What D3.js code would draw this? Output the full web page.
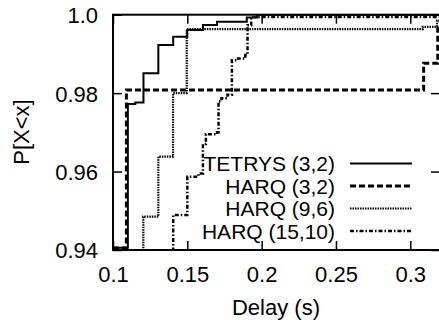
<!DOCTYPE html>
<html><head><meta charset="utf-8">
<script src="https://cdn.jsdelivr.net/npm/d3@7"></script>
<style>body{margin:0;background:#fff}svg{display:block}text{font-family:"Liberation Sans",Arial,sans-serif;font-size:22px;fill:#000}</style>
</head><body>
<script>
const xTicks = [0.1, 0.15, 0.2, 0.25, 0.3];
const xTickLabels = ["0.1", "0.15", "0.2", "0.25", "0.3"];
const yTicks = [0.94, 0.96, 0.98, 1.0];
const yTickLabels = ["0.94", "0.96", "0.98", "1.0"];
const seriesNames = ["TETRYS (3,2)", "HARQ (3,2)", "HARQ (9,6)", "HARQ (15,10)"];

const tetrysX = [0.1, 0.11, 0.115, 0.1205, 0.1305, 0.1405, 0.150, 0.1605, 0.170, 0.190, 0.197, 0.32];
const tetrysY = [0.9406, 0.9772, 0.9776, 0.9851, 0.9923, 0.9944, 0.9961, 0.9974, 0.9982, 0.9993, 1.0, 1.0];

const harq32X = [0.1, 0.109, 0.309, 0.3185, 0.32];
const harq32Y = [0.9405, 0.9808, 0.9876, 0.9970, 0.9970];

const harq96X = [0.1, 0.1204, 0.1305, 0.1404, 0.1496, 0.3084, 0.318, 0.32];
const harq96Y = [0.938, 0.9485, 0.9638, 0.9800, 0.9963, 0.9969, 0.9985, 0.9985];

const harq1510X = [0.1, 0.1405, 0.150, 0.1575, 0.1605, 0.1625, 0.170, 0.171, 0.173, 0.177, 0.180, 0.183, 0.189, 0.1905, 0.193, 0.32];
const harq1510Y = [0.938, 0.9489, 0.9587, 0.9595, 0.9670, 0.9695, 0.9700, 0.9779, 0.9787, 0.9796, 0.9884, 0.9888, 0.9897, 0.9973, 0.9994, 0.9994];

const W = 439, H = 320;
const L = 113, R = 440, T = 14.7, B = 250;
const x = d3.scaleLinear().domain([0.1, 0.32]).range([L, R]);
const y = d3.scaleLinear().domain([0.94, 1.0]).range([B, T]);

const svg = d3.select("body").append("svg").attr("width", W).attr("height", H);
svg.append("defs").append("clipPath").attr("id", "clip")
  .append("rect").attr("x", L).attr("y", T).attr("width", R - L).attr("height", B - T);

const styles = [
  {w: 2, dash: null},
  {w: 3, dash: "6,3"},
  {w: 2.2, dash: "1.5,1"},
  {w: 2.5, dash: "4,2,1.5,2"}
];
const series = [
  tetrysX.map((v, i) => [v, tetrysY[i]]),
  harq32X.map((v, i) => [v, harq32Y[i]]),
  harq96X.map((v, i) => [v, harq96Y[i]]),
  harq1510X.map((v, i) => [v, harq1510Y[i]])
];
const line = d3.line().x(d => x(d[0])).y(d => y(d[1])).curve(d3.curveStepAfter);

const g = svg.append("g").attr("clip-path", "url(#clip)");
[3, 2, 1, 0].forEach(i => {
  g.append("path").attr("d", line(series[i])).attr("fill", "none").attr("stroke", "#000")
    .attr("stroke-width", styles[i].w).attr("stroke-dasharray", styles[i].dash);
});

const tl = 9;
const xb = d3.axisBottom(x).tickValues(xTicks).tickSizeInner(-tl).tickSizeOuter(0).tickFormat((d, i) => xTickLabels[i]);
const xt = d3.axisTop(x).tickValues(xTicks).tickSizeInner(-tl).tickSizeOuter(0).tickFormat("");
const yl = d3.axisLeft(y).tickValues(yTicks).tickSizeInner(-tl).tickSizeOuter(0).tickFormat((d, i) => yTickLabels[i]);
const yr = d3.axisRight(y).tickValues(yTicks).tickSizeInner(-tl).tickSizeOuter(0).tickFormat("");

function style(sel) {
  sel.select(".domain").remove();
  sel.selectAll("line").attr("stroke", "#000").attr("stroke-width", 1.5);
  sel.selectAll("text").attr("font-size", 22).attr("font-family", '"Liberation Sans", Arial, sans-serif').attr("fill", "#000");
}
const gxb = svg.append("g").attr("transform", `translate(0,${B})`).call(xb).call(style);
gxb.selectAll("text").attr("y", 16).attr("dy", "0.71em");
svg.append("g").attr("transform", `translate(0,${T})`).call(xt).call(style);
const gyl = svg.append("g").attr("transform", `translate(${L},0)`).call(yl).call(style);
gyl.selectAll("text").attr("x", -15).attr("dy", "0.36em");
svg.append("g").attr("transform", `translate(${R},0)`).call(yr).call(style);

svg.append("rect").attr("x", L).attr("y", T).attr("width", R - L).attr("height", B - T)
  .attr("fill", "none").attr("stroke", "#000").attr("stroke-width", 2);

svg.append("text").attr("x", 276).attr("y", 315).attr("text-anchor", "middle").text("Delay (s)");
svg.append("text").attr("transform", "translate(29,132) rotate(-90)").attr("text-anchor", "middle").text("P[X<x]");

const legY = [163.5, 186, 208.5, 231];
seriesNames.forEach((n, i) => {
  svg.append("text").attr("x", 335).attr("y", legY[i]).attr("dy", "0.36em").attr("text-anchor", "end")
    .style("font-size", "21px").text(n);
  svg.append("line").attr("x1", 350).attr("x2", 412).attr("y1", legY[i]).attr("y2", legY[i])
    .attr("stroke", "#000").attr("stroke-width", styles[i].w).attr("stroke-dasharray", styles[i].dash);
});
</script>
</body></html>
